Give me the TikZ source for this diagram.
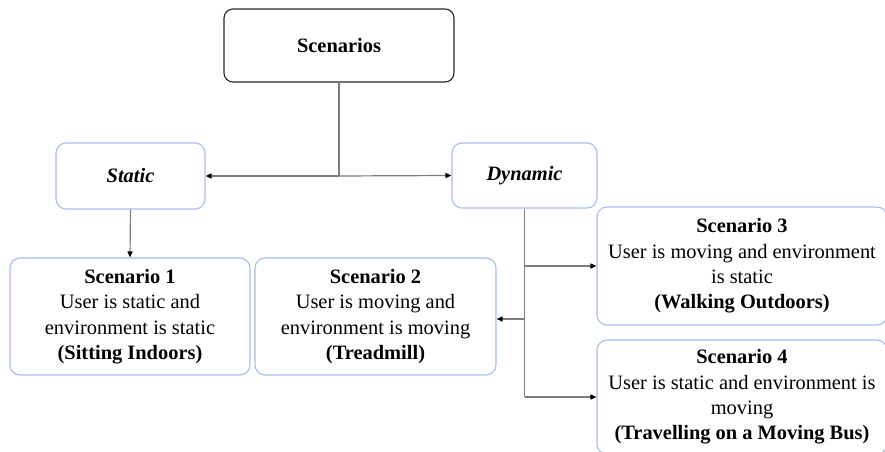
\documentclass[tikz,border=0pt]{standalone}
\usepackage{fontspec}
\setmainfont{Liberation Serif}
\usetikzlibrary{arrows.meta}
\definecolor{boxblue}{RGB}{168,190,234}
\definecolor{linegray}{RGB}{125,125,125}
\tikzset{
  bluebox/.style={draw=boxblue, line width=1.1bp, rounded corners=10bp, fill=white,
    align=center, inner sep=0pt, font=\fontsize{20.5}{25.5}\selectfont},
  topbox/.style={draw=black!85, line width=1.1bp, rounded corners=9bp, fill=white,
    align=center, inner sep=0pt, font=\fontsize{20.5}{25.5}\selectfont\bfseries},
  conn/.style={draw=linegray, line width=1.2bp},
  arr/.style={conn, -{Triangle[length=6bp,width=5bp,fill=black,color=black]}}
}
\begin{document}
\begin{tikzpicture}[x=1bp,y=-1bp]
\useasboundingbox (0,0) rectangle (885,452);
\node[topbox, minimum width=230bp, minimum height=73bp] (top) at (339,45.5) {Scenarios};
\node[bluebox, minimum width=149bp, minimum height=66bp] (static) at (130.5,176) {\bfseries\itshape Static};
\node[bluebox, minimum width=145bp, minimum height=65bp] (dyn) at (524.5,175.5) {\bfseries\itshape Dynamic};
\node[bluebox, minimum width=240bp, minimum height=117bp] (s1) at (130,316.5)
  {\textbf{Scenario 1}\\User is static and\\environment is static\\\textbf{(Sitting Indoors)}};
\node[bluebox, minimum width=241bp, minimum height=117bp] (s2) at (375.5,316.5)
  {\textbf{Scenario 2}\\User is moving and\\environment is moving\\\textbf{(Treadmill)}};
\node[bluebox, minimum width=290bp, minimum height=118bp] (s3) at (742,266)
  {\textbf{Scenario 3}\\User is moving and environment\\is static\\\textbf{(Walking Outdoors)}};
\node[bluebox, minimum width=290bp, minimum height=114bp] (s4) at (742,397)
  {\textbf{Scenario 4}\\User is static and environment is\\moving\\\textbf{(Travelling on a Moving Bus)}};
\coordinate (j) at (top.south |- static.east);
\draw[conn] (top.south) -- (j);
\draw[arr] (j) -- (static.east);
\draw[arr] (j) -- (dyn.west);
\draw[arr] (static.south) -- (s1.north);
\coordinate (d2) at (dyn.south |- 0,319);
\coordinate (d3) at (dyn.south |- s3.west);
\coordinate (d4) at (dyn.south |- s4.west);
\draw[conn] (dyn.south) -- (d4);
\draw[arr] (d3) -- (s3.west);
\draw[arr] (d2) -- (s2.east |- d2);
\draw[arr] (d4) -- (s4.west);
\end{tikzpicture}
\end{document}
